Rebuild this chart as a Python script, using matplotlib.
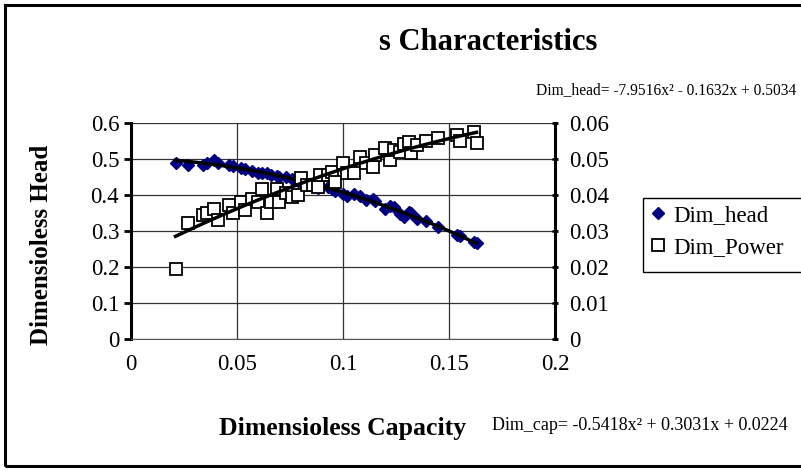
import matplotlib
matplotlib.use("Agg")
from matplotlib import pyplot as plt
from matplotlib.patches import Rectangle
import numpy as np

plt.rcParams['font.family'] = ['Liberation Serif', 'DejaVu Serif']

# dimensionless capacity (x) for both series
dim_cap = [0.021, 0.027, 0.034, 0.036, 0.039, 0.041, 0.046, 0.048, 0.052, 0.054,
           0.057, 0.060, 0.062, 0.064, 0.066, 0.069, 0.070, 0.073, 0.076, 0.079,
           0.080, 0.083, 0.086, 0.088, 0.089, 0.093, 0.095, 0.096, 0.100, 0.102,
           0.105, 0.108, 0.111, 0.114, 0.115, 0.120, 0.122, 0.124, 0.127, 0.129,
           0.131, 0.132, 0.135, 0.139, 0.145, 0.154, 0.155, 0.162, 0.163]
dim_head = [0.490, 0.484, 0.484, 0.488, 0.497, 0.490, 0.483, 0.480, 0.476, 0.472,
            0.468, 0.462, 0.460, 0.461, 0.455, 0.452, 0.450, 0.449, 0.444, 0.440,
            0.437, 0.430, 0.427, 0.420, 0.424, 0.422, 0.418, 0.412, 0.402, 0.398,
            0.402, 0.396, 0.386, 0.390, 0.384, 0.360, 0.370, 0.366, 0.348, 0.340,
            0.352, 0.350, 0.334, 0.328, 0.310, 0.290, 0.286, 0.270, 0.268]
dim_power = [0.0194, 0.0323, 0.0345, 0.0349, 0.0360, 0.0331, 0.0372, 0.0351, 0.0381, 0.0358,
             0.0390, 0.0380, 0.0416, 0.0351, 0.0381, 0.0418, 0.0381, 0.0405, 0.0395, 0.0400,
             0.0446, 0.0428, 0.0428, 0.0423, 0.0456, 0.0455, 0.0465, 0.0437, 0.0488, 0.0460,
             0.0460, 0.0506, 0.0490, 0.0479, 0.0511, 0.0530, 0.0497, 0.0525, 0.0520, 0.0543,
             0.0548, 0.0516, 0.0540, 0.0551, 0.0557, 0.0567, 0.0551, 0.0576, 0.0545]

# trendline coefficients as printed on the chart
head_coef = [-7.9516, -0.1632, 0.5034]
power_coef = [-0.5418, 0.3031, 0.0224]

x_ticks = [0, 0.05, 0.1, 0.15, 0.2]
x_labels = ["0", "0.05", "0.1", "0.15", "0.2"]
y_ticks = [0, 0.1, 0.2, 0.3, 0.4, 0.5, 0.6]
y_labels = ["0", "0.1", "0.2", "0.3", "0.4", "0.5", "0.6"]
y2_ticks = [0, 0.01, 0.02, 0.03, 0.04, 0.05, 0.06]
y2_labels = ["0", "0.01", "0.02", "0.03", "0.04", "0.05", "0.06"]

W, H = 801, 471
fig = plt.figure(figsize=(W / 100, H / 100), dpi=100)

# chart border
fig.patches.append(Rectangle((5 / W, 5 / H), 1.2, 461 / H, transform=fig.transFigure,
                             fill=False, edgecolor="black", linewidth=2.2))

ax = fig.add_axes([131 / W, 1 - 339 / H, 424 / W, 216 / H])
ax.set_xlim(0, 0.2)
ax.set_ylim(0, 0.6)
ax.set_xticks(x_ticks)
ax.set_xticklabels(x_labels)
ax.set_yticks(y_ticks)
ax.set_yticklabels(y_labels)
ax.grid(True, color="#333333", linewidth=0.9)
ax.set_axisbelow(True)
for s in ["top", "right"]:
    ax.spines[s].set_visible(False)
ax.spines["left"].set_linewidth(2.2)
ax.spines["bottom"].set_color("#555555")
ax.tick_params(axis="y", labelsize=16.5, length=5, width=2, direction="out")
ax.tick_params(axis="x", labelsize=16.5, length=0, pad=11)

xs = np.linspace(min(dim_cap), max(dim_cap), 200)
h1, = ax.plot(dim_cap, dim_head, "D", color="#000080", markersize=6, linestyle="none",
              label="Dim_head")
ax.plot(xs, np.polyval(head_coef, xs), color="black", linewidth=2.5)

ax2 = ax.twinx()
ax2.set_ylim(0, 0.06)
ax2.set_yticks(y2_ticks)
ax2.set_yticklabels(y2_labels)
for s in ["top", "left", "bottom"]:
    ax2.spines[s].set_visible(False)
ax2.spines["right"].set_linewidth(2.2)
ax2.tick_params(axis="y", labelsize=16.5, length=5, width=2, direction="inout", pad=8)
h2, = ax2.plot(dim_cap, dim_power, "s", markerfacecolor="white", markeredgecolor="black",
               markeredgewidth=1.3, markersize=8, linestyle="none", label="Dim_Power")
ax2.plot(xs, np.polyval(power_coef, xs), color="black", linewidth=2.5)

fig.text(488 / W, 1 - 43 / H, "s Characteristics", fontsize=22, fontweight="bold",
         ha="center", va="center")
fig.text(536 / W, 1 - 90 / H, "Dim_head= -7.9516x² - 0.1632x + 0.5034", fontsize=11.2,
         va="center")
fig.text(492 / W, 1 - 425 / H, "Dim_cap= -0.5418x² + 0.3031x + 0.0224", fontsize=13,
         va="center")
fig.text(343 / W, 1 - 428 / H, "Dimensioless Capacity", fontsize=18.5, fontweight="bold",
         ha="center", va="center")
fig.text(42 / W, 1 - 245 / H, "Dimensioless Head", fontsize=18, fontweight="bold",
         ha="center", va="center", rotation=90)

# legend box runs off the right edge like the reference
fig.patches.append(Rectangle((643 / W, 1 - 272 / H), 0.3, 74 / H, transform=fig.transFigure,
                             fill=False, edgecolor="black", linewidth=1.0))
leg = fig.legend(handles=[h1, h2], loc="upper left", bbox_to_anchor=(645 / W, 1 - 198 / H),
                 fontsize=16.5, frameon=False, borderaxespad=0, handlelength=0.5,
                 handletextpad=0.45, borderpad=0.3, labelspacing=0.5)

plt.savefig("out.png", dpi=100)
